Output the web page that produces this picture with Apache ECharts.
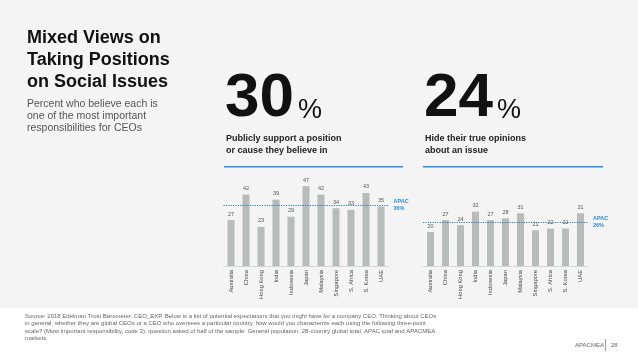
<!DOCTYPE html>
<html><head><meta charset="utf-8">
<script src="https://cdn.jsdelivr.net/npm/echarts@6/dist/echarts.min.js"></script>
<style>html,body{margin:0;padding:0;background:#fff}#c{width:638px;height:359px}</style>
</head><body><div id="c"></div>
<script>
const categories = ['Australia','China','Hong Kong','India','Indonesia','Japan','Malaysia','Singapore','S. Africa','S. Korea','UAE'];
const supportValues = [27,42,23,39,29,47,42,34,33,43,35];
const hideValues = [20,27,24,32,27,28,31,21,22,22,31];
const apacSupport = 36;
const apacHide = 26;
const bigSupport = '30';
const bigHide = '24';

const F = 'Liberation Sans, Arial, Helvetica, sans-serif';
const blue = '#2e8ce0';
const chart = echarts.init(document.getElementById('c'), null, {renderer:'canvas'});

function xAxis(i){
  return {gridIndex:i,type:'category',data:categories,
    axisLine:{show:true,lineStyle:{color:'#d6d6d6',width:1}},
    axisTick:{show:false},
    axisLabel:{rotate:90,fontSize:5.8,color:'#444',fontFamily:F,margin:4,interval:0}};
}
function yAxis(i){
  return {gridIndex:i,type:'value',min:0,max:50,show:false,splitLine:{show:false}};
}
function series(i,data,apac){
  return {type:'bar',xAxisIndex:i,yAxisIndex:i,data:data,barWidth:7,
    itemStyle:{color:'#b7bbba'},
    label:{show:true,position:'top',fontSize:5.5,color:'#555',fontFamily:F,distance:3},
    markLine:{silent:true,symbol:'none',
      lineStyle:{color:'#2a78d0',type:[1.2,1.2],width:1,opacity:1},
      label:{show:true,position:'end',formatter:'APAC\n'+apac+'%',color:blue,fontSize:5.5,fontWeight:'bold',fontFamily:F,lineHeight:7,distance:5},
      data:[{yAxis:apac}]}};
}

chart.setOption({
  animation:false,
  backgroundColor:'#fff',
  grid:[
    {left:223.5,width:165,top:181,height:85},
    {left:423,width:165,top:181,height:85}
  ],
  xAxis:[xAxis(0),xAxis(1)],
  yAxis:[yAxis(0),yAxis(1)],
  series:[series(0,supportValues,apacSupport),series(1,hideValues,apacHide)],
  graphic:[
    {type:'rect',z:-10,shape:{x:0,y:0,width:638,height:308},style:{fill:'#f4f4f4'}},
    {type:'text',left:27,top:27,style:{text:'Mixed Views on\nTaking Positions\non Social Issues',font:'bold 18px '+F,fill:'#111',lineHeight:22}},
    {type:'text',left:27,top:98,style:{text:'Percent who believe each is\none of the most important\nresponsibilities for CEOs',font:'10.5px '+F,fill:'#555',lineHeight:12}},
    {type:'text',left:225,top:68,style:{text:bigSupport,font:'bold 62px '+F,fill:'#111'}},
    {type:'text',left:298,top:97,style:{text:'%',font:'27px '+F,fill:'#111'}},
    {type:'text',left:226,top:133,style:{text:'Publicly support a position\nor cause they believe in',font:'bold 9px '+F,fill:'#222',lineHeight:11.5}},
    {type:'rect',shape:{x:224,y:166,width:179,height:1.6},style:{fill:blue}},
    {type:'text',left:424,top:68,style:{text:bigHide,font:'bold 62px '+F,fill:'#111'}},
    {type:'text',left:497,top:97,style:{text:'%',font:'27px '+F,fill:'#111'}},
    {type:'text',left:425,top:133,style:{text:'Hide their true opinions\nabout an issue',font:'bold 9px '+F,fill:'#222',lineHeight:11.5}},
    {type:'rect',shape:{x:423,y:166,width:180,height:1.6},style:{fill:blue}},
    {type:'text',left:25,top:313,style:{text:'Source: 2018 Edelman Trust Barometer. CEO_EXP. Below is a list of potential expectations that you might have for a company CEO. Thinking about CEOs\nin general, whether they are global CEOs or a CEO who oversees a particular country, how would you characterize each using the following three-point\nscale? (Most important responsibility, code 3), question asked of half of the sample. General population, 28-country global total, APAC total and APACMEA\nmarkets.',font:'6px '+F,fill:'#666',lineHeight:7.2}},
    {type:'text',left:575,top:342,style:{text:'APACMEA',font:'6px '+F,fill:'#666'}},
    {type:'rect',shape:{x:605,y:339,width:0.8,height:12},style:{fill:'#888'}},
    {type:'text',left:611,top:342,style:{text:'28',font:'6px '+F,fill:'#666'}}
  ]
});
</script></body></html>
